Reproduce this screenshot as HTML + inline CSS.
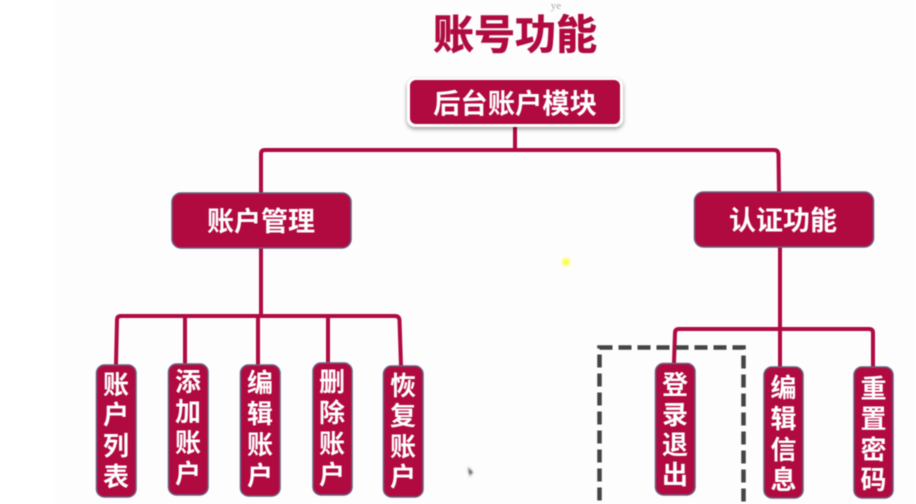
<!DOCTYPE html>
<html lang="zh">
<head>
<meta charset="utf-8">
<style>
html,body{margin:0;padding:0;background:#fff;width:916px;height:504px;overflow:hidden}
svg{display:block;filter:blur(.45px)}
text{font-family:"Liberation Sans","Noto Sans CJK SC",sans-serif;font-weight:700;fill:#fff;text-anchor:middle}
.l{fill:none;stroke:#b00a40;stroke-width:4;stroke-linejoin:round}
.b{fill:#b00a40;stroke:#6b6080;stroke-width:1.5}
</style>
</head>
<body>
<svg width="916" height="504" viewBox="0 0 916 504" xmlns="http://www.w3.org/2000/svg">
<defs>
<filter id="s" x="-10%" y="-30%" width="120%" height="160%"><feDropShadow dx="0" dy="2" stdDeviation="2" flood-color="#000" flood-opacity=".4"/></filter>
<filter id="bl" x="-100%" y="-100%" width="300%" height="300%"><feGaussianBlur stdDeviation="1"/></filter>
</defs>
<rect x="55" y="0" width="861" height="504" fill="#fdfdfd"/>

<text x="515" y="49" font-size="41" style="fill:#b00a40;stroke:#b00a40;stroke-width:.6">账号功能</text>
<text x="556" y="9" font-size="11" style="fill:#aaa;font-family:'Liberation Serif',serif;font-weight:400">ye</text>

<path class="l" d="M515 125V150M261 193V154Q261 150 265 150H774Q778 150 778.500 154L779 193"/>
<path class="l" d="M261 248V316M116 365L117 320Q117 316 121 316H395Q399 316 399.500 320L401 366M185 316V364M258 316V365M328 316V363"/>
<path class="l" d="M780 247V367M674 363L675 333Q675 329 679 329H869Q873 329 873 333V367"/>

<rect x="599.500" y="347.500" width="144" height="170" fill="none" stroke="#444" stroke-width="4.500" stroke-dasharray="13 6"/>

<rect x="407" y="78" width="216" height="49" rx="8" fill="#fff" filter="url(#s)"/>
<rect x="410" y="80" width="210" height="44" rx="6" fill="#b00a40"/>
<text x="515" y="113" font-size="27.300">后台账户模块</text>

<rect class="b" x="172" y="193" width="179" height="55" rx="9"/>
<text x="261" y="231" font-size="27">账户管理</text>
<rect class="b" x="694.500" y="192" width="179" height="55" rx="9"/>
<text x="783" y="230" font-size="27">认证功能</text>

<rect class="b" x="96.500" y="365" width="39.500" height="132" rx="8"/>
<text font-size="26"><tspan x="116" y="394">账</tspan><tspan x="116" y="424">户</tspan><tspan x="116" y="455">列</tspan><tspan x="116" y="486">表</tspan></text>

<rect class="b" x="168.500" y="364" width="39.500" height="131" rx="8"/>
<text font-size="26"><tspan x="188" y="391">添</tspan><tspan x="188" y="421">加</tspan><tspan x="188" y="452">账</tspan><tspan x="188" y="483">户</tspan></text>

<rect class="b" x="240.500" y="365" width="39.500" height="131" rx="8"/>
<text font-size="26"><tspan x="260" y="392">编</tspan><tspan x="260" y="423">辑</tspan><tspan x="260" y="454">账</tspan><tspan x="260" y="485">户</tspan></text>

<rect class="b" x="313" y="363" width="39" height="132" rx="8"/>
<text font-size="26"><tspan x="332" y="391">删</tspan><tspan x="332" y="422">除</tspan><tspan x="332" y="453">账</tspan><tspan x="332" y="484">户</tspan></text>

<rect class="b" x="383.500" y="366" width="39.500" height="131" rx="8"/>
<text font-size="26"><tspan x="403" y="395">恢</tspan><tspan x="403" y="425">复</tspan><tspan x="403" y="456">账</tspan><tspan x="403" y="486">户</tspan></text>

<rect class="b" x="655.500" y="363.500" width="39.500" height="131.500" rx="8"/>
<text font-size="26"><tspan x="675" y="394">登</tspan><tspan x="675" y="424">录</tspan><tspan x="675" y="454">退</tspan><tspan x="675" y="484">出</tspan></text>

<rect class="b" x="764" y="367" width="39" height="131" rx="8"/>
<text font-size="26"><tspan x="783.500" y="397">编</tspan><tspan x="783.500" y="428">辑</tspan><tspan x="783.500" y="459">信</tspan><tspan x="783.500" y="489">息</tspan></text>

<rect class="b" x="854" y="367" width="39" height="131" rx="8"/>
<text font-size="26"><tspan x="873.500" y="398">重</tspan><tspan x="873.500" y="428">置</tspan><tspan x="873.500" y="459">密</tspan><tspan x="873.500" y="489">码</tspan></text>

<circle cx="566" cy="262" r="4" fill="#fdfd55" filter="url(#bl)"/>
<path d="M468 467L473 473L470.500 474L470 477Z" fill="#222" filter="url(#bl)" opacity=".9"/>
</svg>
</body>
</html>
